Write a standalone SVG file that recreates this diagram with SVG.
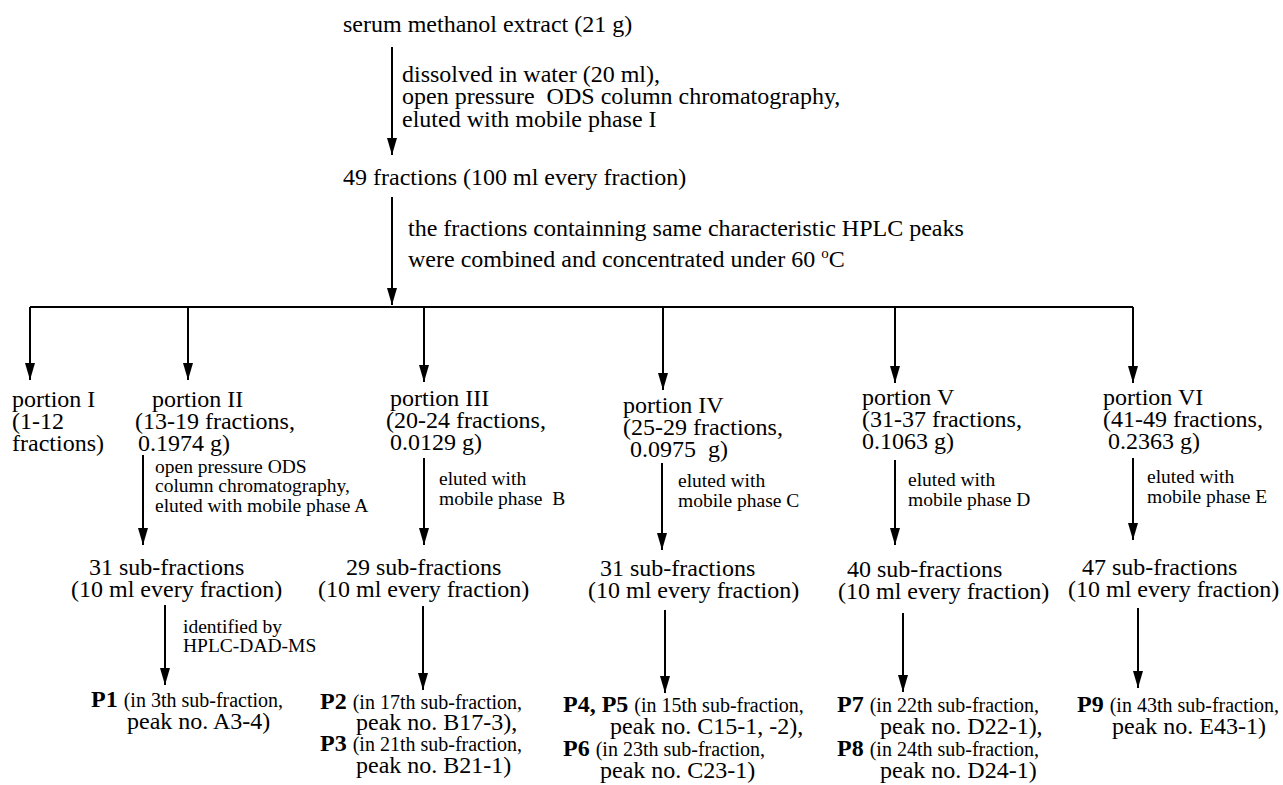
<svg xmlns="http://www.w3.org/2000/svg" width="1283" height="785" viewBox="0 0 1283 785">
<style>
text{font-family:"Liberation Serif","Times New Roman","DejaVu Serif",serif;font-size:24px;fill:#000}
.s{font-size:19.5px}
.m{font-size:20px}
.b{font-weight:bold}
.c{fill:none;stroke:#000;stroke-width:2}
</style>
<defs>
<marker id="ah" viewBox="0 0 17 10" refX="17" refY="5" markerWidth="17" markerHeight="10" markerUnits="userSpaceOnUse" orient="auto">
<path d="M0,0 L17,5 L0,10 Z" fill="#000"/>
</marker>
</defs>
<rect width="1283" height="785" fill="#fff"/>
<g id="connectors">
<path class="c" d="M392,47 V155" marker-end="url(#ah)"/>
<path class="c" d="M392,197 V305" marker-end="url(#ah)"/>
<path class="c" d="M30,307 H1133"/>
<path class="c" d="M30,307 V380" marker-end="url(#ah)"/>
<path class="c" d="M188,307 V380" marker-end="url(#ah)"/>
<path class="c" d="M424,307 V382" marker-end="url(#ah)"/>
<path class="c" d="M663,307 V390" marker-end="url(#ah)"/>
<path class="c" d="M895,307 V383" marker-end="url(#ah)"/>
<path class="c" d="M1133,307 V383" marker-end="url(#ah)"/>
<path class="c" d="M143,455 V545" marker-end="url(#ah)"/>
<path class="c" d="M165,605 V685" marker-end="url(#ah)"/>
<path class="c" d="M424,458 V545" marker-end="url(#ah)"/>
<path class="c" d="M423,606 V690" marker-end="url(#ah)"/>
<path class="c" d="M662,463 V550" marker-end="url(#ah)"/>
<path class="c" d="M665,610 V693" marker-end="url(#ah)"/>
<path class="c" d="M895,460 V545" marker-end="url(#ah)"/>
<path class="c" d="M903,613 V692" marker-end="url(#ah)"/>
<path class="c" d="M1133,458 V540" marker-end="url(#ah)"/>
<path class="c" d="M1138,608 V688" marker-end="url(#ah)"/>
</g>
<g id="edge-labels">
<text x="402" y="82">dissolved in water (20 ml),</text>
<text x="402" y="104">open pressure &#160;ODS column chromatography,</text>
<text x="402" y="127">eluted with mobile phase I</text>
<text x="408" y="236">the fractions containning same characteristic HPLC peaks</text>
<text x="408" y="267">were combined and concentrated under 60 <tspan font-size="15" dy="-9">o</tspan><tspan dy="9">C</tspan></text>
<text class="s" x="155" y="473">open pressure ODS</text>
<text class="s" x="155" y="492">column chromatography,</text>
<text class="s" x="155" y="512">eluted with mobile phase A</text>
<text class="s" x="183" y="633">identified by</text>
<text class="s" x="183" y="652">HPLC-DAD-MS</text>
<text class="s" x="439" y="485">eluted with</text>
<text class="s" x="439" y="505">mobile phase &#160;B</text>
<text class="s" x="678" y="487">eluted with</text>
<text class="s" x="678" y="507">mobile phase C</text>
<text class="s" x="908" y="486">eluted with</text>
<text class="s" x="908" y="506">mobile phase D</text>
<text class="s" x="1147" y="483">eluted with</text>
<text class="s" x="1147" y="503">mobile phase E</text>
</g>
<g id="n-extract"><text x="343" y="32">serum methanol extract (21 g)</text></g>
<g id="n-49fractions"><text x="343" y="185">49 fractions (100 ml every fraction)</text></g>
<g id="n-portion1">
<text x="12" y="407">portion I</text>
<text x="12" y="429">(1-12</text>
<text x="12" y="451">fractions)</text>
</g>
<g id="n-portion2">
<text x="152" y="407">portion II</text>
<text x="135" y="429">(13-19 fractions,</text>
<text x="138" y="451">0.1974 g)</text>
</g>
<g id="n-portion3">
<text x="390" y="406">portion III</text>
<text x="386" y="428">(20-24 fractions,</text>
<text x="390" y="450">0.0129 g)</text>
</g>
<g id="n-portion4">
<text x="623" y="413">portion IV</text>
<text x="623" y="435">(25-29 fractions,</text>
<text x="630" y="457">0.0975 &#160;g)</text>
</g>
<g id="n-portion5">
<text x="862" y="405">portion V</text>
<text x="862" y="427">(31-37 fractions,</text>
<text x="862" y="449">0.1063 g)</text>
</g>
<g id="n-portion6">
<text x="1103" y="405">portion VI</text>
<text x="1103" y="427">(41-49 fractions,</text>
<text x="1108" y="449">0.2363 g)</text>
</g>
<g id="n-sub2">
<text x="89" y="575">31 sub-fractions</text>
<text x="71" y="597">(10 ml every fraction)</text>
</g>
<g id="n-sub3">
<text x="346" y="575">29 sub-fractions</text>
<text x="318" y="597">(10 ml every fraction)</text>
</g>
<g id="n-sub4">
<text x="600" y="576">31 sub-fractions</text>
<text x="588" y="598">(10 ml every fraction)</text>
</g>
<g id="n-sub5">
<text x="847" y="577">40 sub-fractions</text>
<text x="838" y="599">(10 ml every fraction)</text>
</g>
<g id="n-sub6">
<text x="1082" y="575">47 sub-fractions</text>
<text x="1068" y="597">(10 ml every fraction)</text>
</g>
<g id="n-p1">
<text x="91" y="707"><tspan class="b">P1</tspan> <tspan class="m">(in 3th sub-fraction,</tspan></text>
<text x="127" y="729">peak no. A3-4)</text>
</g>
<g id="n-p2p3">
<text x="320" y="709"><tspan class="b">P2</tspan> <tspan class="m">(in 17th sub-fraction,</tspan></text>
<text x="356" y="730">peak no. B17-3),</text>
<text x="320" y="751"><tspan class="b">P3</tspan> <tspan class="m">(in 21th sub-fraction,</tspan></text>
<text x="356" y="773">peak no. B21-1)</text>
</g>
<g id="n-p4p5p6">
<text x="563" y="712"><tspan class="b">P4, P5</tspan> <tspan class="m">(in 15th sub-fraction,</tspan></text>
<text x="610" y="734">peak no. C15-1, -2),</text>
<text x="563" y="756"><tspan class="b">P6</tspan> <tspan class="m">(in 23th sub-fraction,</tspan></text>
<text x="600" y="778">peak no. C23-1)</text>
</g>
<g id="n-p7p8">
<text x="837" y="712"><tspan class="b">P7</tspan> <tspan class="m">(in 22th sub-fraction,</tspan></text>
<text x="880" y="734">peak no. D22-1),</text>
<text x="837" y="756"><tspan class="b">P8</tspan> <tspan class="m">(in 24th sub-fraction,</tspan></text>
<text x="880" y="778">peak no. D24-1)</text>
</g>
<g id="n-p9">
<text x="1077" y="712"><tspan class="b">P9</tspan> <tspan class="m">(in 43th sub-fraction,</tspan></text>
<text x="1112" y="734">peak no. E43-1)</text>
</g>
</svg>
